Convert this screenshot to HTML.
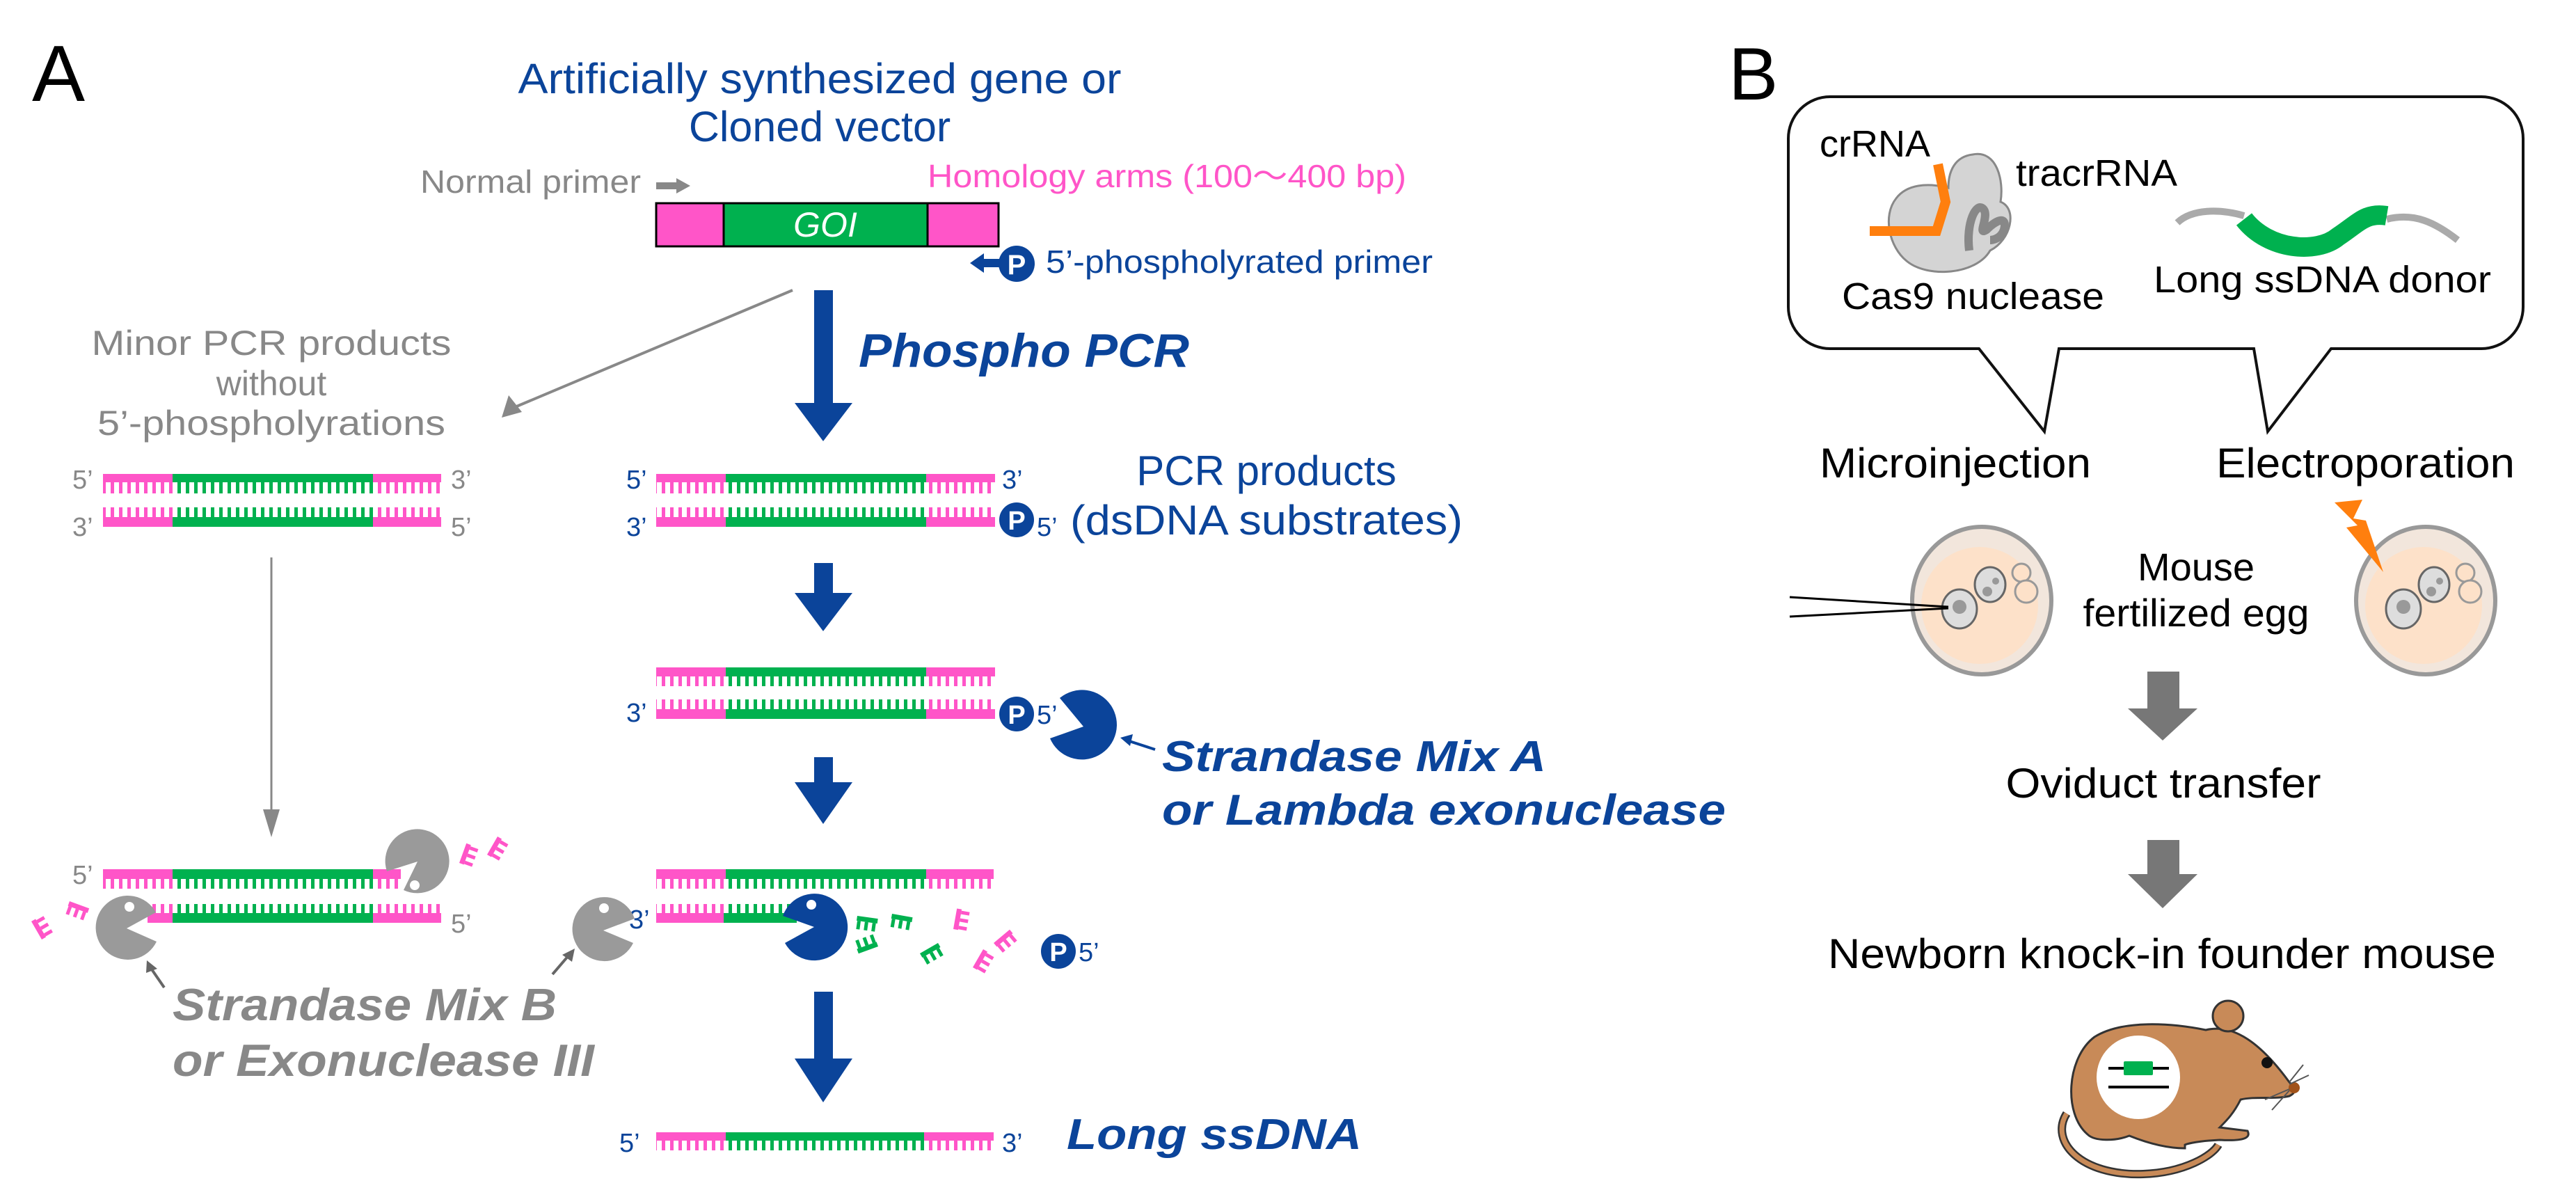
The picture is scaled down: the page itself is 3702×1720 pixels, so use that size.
<!DOCTYPE html>
<html><head><meta charset="utf-8"><style>
html,body{margin:0;padding:0;background:#fff}
svg{display:block}
text{font-family:"Liberation Sans",Arial,sans-serif}
</style></head><body>
<svg width="3702" height="1720" viewBox="0 0 3702 1720" xmlns="http://www.w3.org/2000/svg">
<defs>
<pattern id="tp" patternUnits="userSpaceOnUse" width="12" height="200"><rect x="3" y="0" width="5" height="200" fill="#ff55c8"/></pattern>
<pattern id="tg" patternUnits="userSpaceOnUse" width="12" height="200"><rect x="3" y="0" width="5" height="200" fill="#00b14f"/></pattern>
<g id="combp"><rect x="0" y="0" width="30" height="7" fill="#ff55c8"/><rect x="1" y="7" width="5" height="12" fill="#ff55c8"/><rect x="12" y="7" width="5" height="12" fill="#ff55c8"/><rect x="23" y="7" width="5" height="12" fill="#ff55c8"/></g>
<g id="combg"><rect x="0" y="0" width="30" height="7" fill="#00b14f"/><rect x="1" y="7" width="5" height="12" fill="#00b14f"/><rect x="12" y="7" width="5" height="12" fill="#00b14f"/><rect x="23" y="7" width="5" height="12" fill="#00b14f"/></g>
</defs>

<!-- Panel A -->
<text x="46" y="145" font-size="114" fill="#000">A</text>
<text x="1178" y="134" font-size="61" fill="#0b449a" text-anchor="middle" textLength="867" lengthAdjust="spacingAndGlyphs">Artificially synthesized gene or</text>
<text x="1178" y="203" font-size="61" fill="#0b449a" text-anchor="middle">Cloned vector</text>
<text x="604" y="277" font-size="46" fill="#888" textLength="317" lengthAdjust="spacingAndGlyphs">Normal primer</text>
<path d="M943 262 H972 V256 L992 267 L972 278 V272 H943 Z" fill="#888"/>
<text x="1333" y="269" font-size="46" fill="#ff55c8" textLength="688" lengthAdjust="spacingAndGlyphs">Homology arms (100〜400 bp)</text>
<rect x="943" y="292" width="97" height="62" fill="#ff55c8"/>
<rect x="1040" y="292" width="293" height="62" fill="#00b14f"/>
<rect x="1333" y="292" width="102" height="62" fill="#ff55c8"/>
<rect x="943" y="292" width="492" height="62" fill="none" stroke="#000" stroke-width="3"/>
<line x1="1040" y1="292" x2="1040" y2="354" stroke="#000" stroke-width="3"/>
<line x1="1333" y1="292" x2="1333" y2="354" stroke="#000" stroke-width="3"/>
<text x="1186" y="340" font-size="50" font-style="italic" fill="#fff" text-anchor="middle">GOI</text>
<path d="M1394 378 L1414 364 V372 H1440 V384 H1414 V392 Z" fill="#0b449a"/>
<circle cx="1461" cy="379" r="26" fill="#0b449a"/>
<text x="1461" y="394" font-size="40" font-weight="bold" fill="#fff" text-anchor="middle">P</text>
<text x="1503" y="392" font-size="46" fill="#0b449a" textLength="556" lengthAdjust="spacingAndGlyphs">5’-phospholyrated primer</text>

<!-- gray diagonal -->
<line x1="1139" y1="417" x2="740" y2="585" stroke="#888" stroke-width="4"/>
<path d="M721 600 L731 568 L750 592 Z" fill="#888"/>
<!-- main blue arrow -->
<rect x="1170" y="417" width="27" height="163" fill="#0b449a"/>
<path d="M1142 579 H1225 L1183 634 Z" fill="#0b449a"/>
<text x="1234" y="527" font-size="68" font-weight="bold" font-style="italic" fill="#0b449a" textLength="475" lengthAdjust="spacingAndGlyphs">Phospho PCR</text>

<text x="390" y="510" font-size="50" fill="#888" text-anchor="middle" textLength="517" lengthAdjust="spacingAndGlyphs">Minor PCR products</text>
<text x="390" y="568" font-size="50" fill="#888" text-anchor="middle">without</text>
<text x="390" y="625" font-size="50" fill="#888" text-anchor="middle" textLength="500" lengthAdjust="spacingAndGlyphs">5’-phospholyrations</text>

<!-- left dsDNA 1 -->
<g>
<rect x="148" y="681" width="100" height="12" fill="#ff55c8"/><rect x="248" y="681" width="288" height="12" fill="#00b14f"/><rect x="536" y="681" width="98" height="12" fill="#ff55c8"/>
<rect x="148" y="693" width="100" height="16" fill="url(#tp)"/><rect x="248" y="693" width="288" height="16" fill="url(#tg)"/><rect x="536" y="693" width="98" height="16" fill="url(#tp)"/>
<rect x="148" y="729" width="100" height="14" fill="url(#tp)"/><rect x="248" y="729" width="288" height="14" fill="url(#tg)"/><rect x="536" y="729" width="98" height="14" fill="url(#tp)"/>
<rect x="148" y="743" width="100" height="14" fill="#ff55c8"/><rect x="248" y="743" width="288" height="14" fill="#00b14f"/><rect x="536" y="743" width="98" height="14" fill="#ff55c8"/>
</g>
<g font-size="38" fill="#888"><text x="104" y="702">5’</text><text x="648" y="702">3’</text><text x="104" y="770">3’</text><text x="648" y="770">5’</text></g>

<!-- mid dsDNA 2 -->
<g>
<rect x="943" y="681" width="100" height="12" fill="#ff55c8"/><rect x="1043" y="681" width="288" height="12" fill="#00b14f"/><rect x="1331" y="681" width="99" height="12" fill="#ff55c8"/>
<rect x="943" y="693" width="100" height="16" fill="url(#tp)"/><rect x="1043" y="693" width="288" height="16" fill="url(#tg)"/><rect x="1331" y="693" width="99" height="16" fill="url(#tp)"/>
<rect x="943" y="729" width="100" height="14" fill="url(#tp)"/><rect x="1043" y="729" width="288" height="14" fill="url(#tg)"/><rect x="1331" y="729" width="99" height="14" fill="url(#tp)"/>
<rect x="943" y="743" width="100" height="14" fill="#ff55c8"/><rect x="1043" y="743" width="288" height="14" fill="#00b14f"/><rect x="1331" y="743" width="99" height="14" fill="#ff55c8"/>
</g>
<g font-size="38" fill="#0b449a"><text x="900" y="702">5’</text><text x="1440" y="702">3’</text><text x="900" y="770">3’</text><text x="1490" y="770">5’</text></g>
<circle cx="1461" cy="747" r="25" fill="#0b449a"/><text x="1461" y="761" font-size="38" font-weight="bold" fill="#fff" text-anchor="middle">P</text>
<text x="1820" y="697" font-size="60" fill="#0b449a" text-anchor="middle">PCR products</text>
<text x="1820" y="768" font-size="60" fill="#0b449a" text-anchor="middle" textLength="564" lengthAdjust="spacingAndGlyphs">(dsDNA substrates)</text>

<!-- arrow 1 -->
<rect x="1170" y="809" width="27" height="45" fill="#0b449a"/>
<path d="M1142 852 H1225 L1183 907 Z" fill="#0b449a"/>

<!-- dsDNA 3 -->
<g>
<rect x="943" y="959" width="100" height="13" fill="#ff55c8"/><rect x="1043" y="959" width="288" height="13" fill="#00b14f"/><rect x="1331" y="959" width="99" height="13" fill="#ff55c8"/>
<rect x="943" y="972" width="100" height="14" fill="url(#tp)"/><rect x="1043" y="972" width="288" height="14" fill="url(#tg)"/><rect x="1331" y="972" width="99" height="14" fill="url(#tp)"/>
<rect x="943" y="1005" width="100" height="14" fill="url(#tp)"/><rect x="1043" y="1005" width="288" height="14" fill="url(#tg)"/><rect x="1331" y="1005" width="99" height="14" fill="url(#tp)"/>
<rect x="943" y="1019" width="100" height="14" fill="#ff55c8"/><rect x="1043" y="1019" width="288" height="14" fill="#00b14f"/><rect x="1331" y="1019" width="99" height="14" fill="#ff55c8"/>
</g>
<text x="900" y="1037" font-size="38" fill="#0b449a">3’</text>
<circle cx="1461" cy="1026" r="25" fill="#0b449a"/><text x="1461" y="1040" font-size="38" font-weight="bold" fill="#fff" text-anchor="middle">P</text>
<text x="1490" y="1040" font-size="38" fill="#0b449a">5’</text>
<!-- pacman A -->
<path d="M1557 1044 L1523 1003 A50 50 0 1 1 1509 1061 Z" fill="#0b449a"/>
<line x1="1660" y1="1077" x2="1620" y2="1064" stroke="#0b449a" stroke-width="4"/>
<path d="M1610 1060 L1628 1055 L1624 1072 Z" fill="#0b449a"/>
<text x="1670" y="1108" font-size="62" font-weight="bold" font-style="italic" fill="#0b449a" textLength="552" lengthAdjust="spacingAndGlyphs">Strandase Mix A</text>
<text x="1670" y="1185" font-size="62" font-weight="bold" font-style="italic" fill="#0b449a" textLength="810" lengthAdjust="spacingAndGlyphs">or Lambda exonuclease</text>

<!-- arrow 2 -->
<rect x="1170" y="1088" width="27" height="40" fill="#0b449a"/>
<path d="M1142 1124 H1225 L1183 1184 Z" fill="#0b449a"/>

<!-- dsDNA 4 -->
<g>
<rect x="943" y="1249" width="100" height="14" fill="#ff55c8"/><rect x="1043" y="1249" width="288" height="14" fill="#00b14f"/><rect x="1331" y="1249" width="97" height="14" fill="#ff55c8"/>
<rect x="943" y="1263" width="100" height="14" fill="url(#tp)"/><rect x="1043" y="1263" width="288" height="14" fill="url(#tg)"/><rect x="1331" y="1263" width="97" height="14" fill="url(#tp)"/>
<rect x="943" y="1299" width="97" height="13" fill="url(#tp)"/><rect x="1040" y="1299" width="105" height="13" fill="url(#tg)"/>
<rect x="943" y="1312" width="97" height="14" fill="#ff55c8"/><rect x="1040" y="1312" width="105" height="14" fill="#00b14f"/>
</g>
<text x="904" y="1334" font-size="38" fill="#0b449a">3’</text>
<path d="M1170 1332 L1125 1316 A48 48 0 1 1 1128 1355 Z" fill="#0b449a"/>
<circle cx="1166" cy="1300" r="7" fill="#fff"/>
<path d="M867 1337 L912 1320 A46 46 0 1 0 910 1355 Z" fill="#9a9a9a"/>
<circle cx="868" cy="1305" r="7" fill="#fff"/>
<use href="#combg" transform="translate(1232 1316) rotate(8)"/>
<use href="#combg" transform="translate(1282 1313) rotate(10)"/>
<use href="#combg" transform="translate(1262 1360) rotate(160)"/>
<use href="#combg" transform="translate(1322 1370) rotate(-30)"/>
<use href="#combp" transform="translate(1370 1335) rotate(-80)"/>
<use href="#combp" transform="translate(1398 1390) rotate(-60)"/>
<use href="#combp" transform="translate(1428 1355) rotate(-40)"/>
<circle cx="1521" cy="1367" r="25" fill="#0b449a"/><text x="1521" y="1381" font-size="38" font-weight="bold" fill="#fff" text-anchor="middle">P</text>
<text x="1550" y="1381" font-size="38" fill="#0b449a">5’</text>

<!-- arrow 3 -->
<rect x="1170" y="1425" width="27" height="100" fill="#0b449a"/>
<path d="M1142 1521 H1225 L1183 1584 Z" fill="#0b449a"/>

<!-- ssDNA -->
<rect x="943" y="1627" width="100" height="12" fill="#ff55c8"/><rect x="1043" y="1627" width="285" height="12" fill="#00b14f"/><rect x="1328" y="1627" width="100" height="12" fill="#ff55c8"/>
<rect x="943" y="1639" width="100" height="14" fill="url(#tp)"/><rect x="1043" y="1639" width="285" height="14" fill="url(#tg)"/><rect x="1328" y="1639" width="100" height="14" fill="url(#tp)"/>
<text x="890" y="1655" font-size="38" fill="#0b449a">5’</text><text x="1440" y="1655" font-size="38" fill="#0b449a">3’</text>
<text x="1533" y="1651" font-size="62" font-weight="bold" font-style="italic" fill="#0b449a" textLength="424" lengthAdjust="spacingAndGlyphs">Long ssDNA</text>

<!-- left branch -->
<line x1="390" y1="801" x2="390" y2="1166" stroke="#888" stroke-width="3"/>
<path d="M378 1163 H402 L390 1203 Z" fill="#888"/>
<g>
<rect x="148" y="1249" width="100" height="14" fill="#ff55c8"/><rect x="248" y="1249" width="288" height="14" fill="#00b14f"/><rect x="536" y="1249" width="40" height="14" fill="#ff55c8"/>
<rect x="148" y="1263" width="100" height="14" fill="url(#tp)"/><rect x="248" y="1263" width="288" height="14" fill="url(#tg)"/><rect x="536" y="1263" width="40" height="14" fill="url(#tp)"/>
<rect x="212" y="1299" width="36" height="13" fill="url(#tp)"/><rect x="248" y="1299" width="288" height="13" fill="url(#tg)"/><rect x="536" y="1299" width="98" height="13" fill="url(#tp)"/>
<rect x="212" y="1312" width="36" height="14" fill="#ff55c8"/><rect x="248" y="1312" width="288" height="14" fill="#00b14f"/><rect x="536" y="1312" width="98" height="14" fill="#ff55c8"/>
</g>
<text x="104" y="1270" font-size="38" fill="#888">5’</text><text x="648" y="1340" font-size="38" fill="#888">5’</text>
<path d="M600 1238 L556 1252 A46 46 0 1 1 580 1279 Z" fill="#9a9a9a"/>
<circle cx="596" cy="1272" r="7" fill="#fff"/>
<path d="M182 1334 L224 1311 A46 46 0 1 0 225 1353 Z" fill="#9a9a9a"/>
<circle cx="186" cy="1303" r="7" fill="#fff"/>
<use href="#combp" transform="translate(660 1240) rotate(-70)"/>
<use href="#combp" transform="translate(700 1228) rotate(-60)"/>
<use href="#combp" transform="translate(100 1295) rotate(20)"/>
<use href="#combp" transform="translate(60 1350) rotate(-120)"/>
<line x1="236" y1="1419" x2="216" y2="1390" stroke="#666" stroke-width="4"/>
<path d="M211 1380 L226 1392 L210 1398 Z" fill="#666"/>
<line x1="794" y1="1400" x2="818" y2="1372" stroke="#666" stroke-width="4"/>
<path d="M826 1363 L822 1382 L808 1372 Z" fill="#666"/>
<text x="248" y="1466" font-size="65" font-weight="bold" font-style="italic" fill="#888" textLength="552" lengthAdjust="spacingAndGlyphs">Strandase Mix B</text>
<text x="248" y="1546" font-size="65" font-weight="bold" font-style="italic" fill="#888" textLength="606" lengthAdjust="spacingAndGlyphs">or Exonuclease III</text>

<!-- Panel B -->
<text x="2484" y="143" font-size="107" fill="#000">B</text>
<path d="M2630 139 H3566 A60 60 0 0 1 3626 199 V441 A60 60 0 0 1 3566 501 H3350 L3259 620 L3239 501 H2959 L2938 620 L2844 501 H2630 A60 60 0 0 1 2570 441 V199 A60 60 0 0 1 2630 139 Z" fill="#fff" stroke="#111" stroke-width="4"/>
<!-- Cas9 -->
<path d="M2835 222 C2870 215 2880 260 2875 290 C2900 300 2890 345 2860 360 C2840 395 2770 400 2740 375 C2715 355 2705 310 2725 285 C2740 265 2770 262 2800 270 C2800 245 2810 225 2835 222 Z" fill="#d4d4d4" stroke="#888" stroke-width="3"/>
<path d="M2830 360 C2825 320 2840 290 2850 300 C2860 310 2840 340 2855 330 C2870 315 2885 310 2880 330 C2875 345 2860 345 2860 345" fill="none" stroke="#888" stroke-width="12"/>
<polyline points="2687,332 2783,332 2796,290 2785,236" fill="none" stroke="#ff7f0e" stroke-width="14"/>
<text x="2615" y="225" font-size="54" fill="#000">crRNA</text>
<text x="2897" y="267" font-size="54" fill="#000" textLength="232" lengthAdjust="spacingAndGlyphs">tracrRNA</text>
<text x="2647" y="444" font-size="54" fill="#000" textLength="377" lengthAdjust="spacingAndGlyphs">Cas9 nuclease</text>
<path d="M3129 320 C3150 300 3190 300 3225 310" fill="none" stroke="#aaa" stroke-width="10"/>
<path d="M3430 315 C3470 305 3500 320 3532 345" fill="none" stroke="#aaa" stroke-width="10"/>
<path d="M3225 315 C3260 360 3330 365 3360 340 C3390 320 3400 305 3430 310" fill="none" stroke="#00b14f" stroke-width="28"/>
<text x="3095" y="420" font-size="54" fill="#000" textLength="485" lengthAdjust="spacingAndGlyphs">Long ssDNA donor</text>

<text x="2615" y="686" font-size="60" fill="#000" textLength="390" lengthAdjust="spacingAndGlyphs">Microinjection</text>
<text x="3185" y="686" font-size="60" fill="#000" textLength="429" lengthAdjust="spacingAndGlyphs">Electroporation</text>
<!-- eggs -->
<g>
<ellipse cx="2848" cy="863" rx="100" ry="106" fill="#f2e6dc" stroke="#999" stroke-width="6"/>
<circle cx="2845" cy="870" r="84" fill="#fde1c9"/>
<circle cx="2905" cy="823" r="13" fill="#fde1c9" stroke="#999" stroke-width="3"/>
<circle cx="2912" cy="850" r="16" fill="#fde1c9" stroke="#999" stroke-width="3"/>
<ellipse cx="2816" cy="875" rx="25" ry="28" fill="#ddd" stroke="#666" stroke-width="3"/>
<circle cx="2816" cy="872" r="10" fill="#999"/>
<ellipse cx="2860" cy="840" rx="22" ry="25" fill="#ddd" stroke="#666" stroke-width="3"/>
<circle cx="2856" cy="850" r="7" fill="#999"/><circle cx="2868" cy="835" r="5" fill="#999"/>
</g>
<line x1="2572" y1="858" x2="2800" y2="872" stroke="#000" stroke-width="3"/>
<line x1="2572" y1="886" x2="2800" y2="874" stroke="#000" stroke-width="3"/>
<g>
<ellipse cx="3486" cy="863" rx="100" ry="106" fill="#f2e6dc" stroke="#999" stroke-width="6"/>
<circle cx="3483" cy="870" r="84" fill="#fde1c9"/>
<circle cx="3543" cy="823" r="13" fill="#fde1c9" stroke="#999" stroke-width="3"/>
<circle cx="3550" cy="850" r="16" fill="#fde1c9" stroke="#999" stroke-width="3"/>
<ellipse cx="3454" cy="875" rx="25" ry="28" fill="#ddd" stroke="#666" stroke-width="3"/>
<circle cx="3454" cy="872" r="10" fill="#999"/>
<ellipse cx="3498" cy="840" rx="22" ry="25" fill="#ddd" stroke="#666" stroke-width="3"/>
<circle cx="3494" cy="850" r="7" fill="#999"/><circle cx="3506" cy="835" r="5" fill="#999"/>
</g>
<path d="M3355 722 L3395 718 L3382 745 L3400 748 L3425 822 L3372 758 L3388 755 Z" fill="#ff7f0e"/>
<text x="3156" y="834" font-size="56" fill="#000" text-anchor="middle">Mouse</text>
<text x="3156" y="900" font-size="56" fill="#000" text-anchor="middle" textLength="325" lengthAdjust="spacingAndGlyphs">fertilized egg</text>
<!-- gray arrows -->
<rect x="3086" y="965" width="46" height="55" fill="#777"/>
<path d="M3058 1018 H3158 L3108 1064 Z" fill="#777"/>
<text x="3109" y="1146" font-size="60" fill="#000" text-anchor="middle" textLength="453" lengthAdjust="spacingAndGlyphs">Oviduct transfer</text>
<rect x="3086" y="1207" width="46" height="52" fill="#777"/>
<path d="M3058 1256 H3158 L3108 1305 Z" fill="#777"/>
<text x="3107" y="1391" font-size="60" fill="#000" text-anchor="middle" textLength="960" lengthAdjust="spacingAndGlyphs">Newborn knock-in founder mouse</text>
<!-- mouse -->
<path d="M2970 1600 C2945 1640 2990 1690 3080 1687 C3140 1685 3180 1660 3188 1645" fill="none" stroke="#333" stroke-width="12"/>
<path d="M2970 1600 C2945 1640 2990 1690 3080 1687 C3140 1685 3180 1660 3188 1645" fill="none" stroke="#c88a58" stroke-width="7"/>
<path d="M3000 1630 C2965 1600 2970 1520 3010 1490 C3050 1465 3120 1470 3170 1480 C3210 1470 3250 1500 3290 1555 C3300 1565 3300 1570 3290 1575 C3270 1580 3240 1575 3220 1580 C3210 1600 3200 1610 3190 1620 L3230 1625 C3235 1635 3225 1640 3190 1638 C3150 1640 3140 1645 3140 1645 L3140 1650 C3110 1650 3080 1640 3060 1632 C3040 1640 3010 1640 3000 1630 Z" fill="#c88a58" stroke="#333" stroke-width="3"/>
<circle cx="3202" cy="1460" r="22" fill="#c88a58" stroke="#333" stroke-width="3"/>
<circle cx="3073" cy="1548" r="60" fill="#fff"/>
<line x1="3030" y1="1535" x2="3117" y2="1535" stroke="#000" stroke-width="4"/>
<rect x="3052" y="1525" width="42" height="20" rx="2" fill="#00b14f"/>
<line x1="3030" y1="1562" x2="3117" y2="1562" stroke="#000" stroke-width="4"/>
<circle cx="3258" cy="1527" r="8" fill="#111"/>
<circle cx="3297" cy="1563" r="8" fill="#a0521a"/>
<g stroke="#555" stroke-width="2" fill="none"><path d="M3290 1555 L3310 1530 M3290 1558 L3318 1545 M3290 1565 L3255 1580 M3290 1567 L3265 1595"/></g>
</svg>
</body></html>
